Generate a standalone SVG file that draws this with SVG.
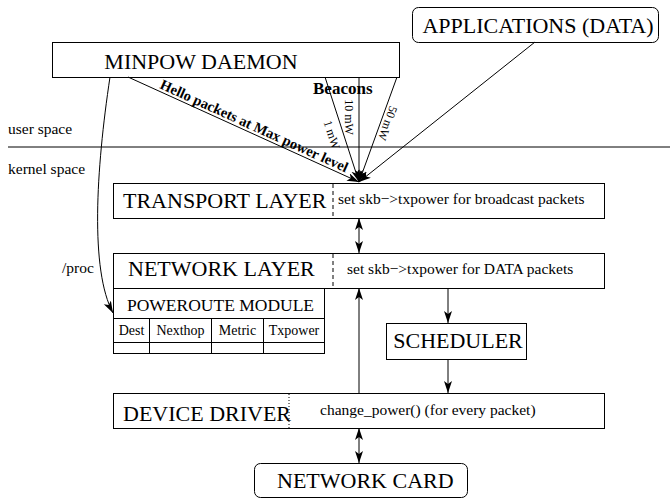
<svg xmlns="http://www.w3.org/2000/svg" width="670" height="500" viewBox="0 0 670 500">
<style>
text{font-family:"Liberation Serif","Times New Roman",serif;fill:#000}
.big{font-size:22px}
.mid{font-size:17.5px}
.sm{font-size:15.5px}
.xs{font-size:14px}
.tiny{font-size:12px}
.bold{font-weight:bold}
.box{fill:#fff;stroke:#000;stroke-width:1}
.ln{fill:none;stroke:#000;stroke-width:1}
.dash{stroke:#000;stroke-width:1;stroke-dasharray:4 3}
.dot{stroke:#000;stroke-width:1;stroke-dasharray:1 2}
</style>
<defs>
<marker id="ah" markerUnits="userSpaceOnUse" markerWidth="13" markerHeight="9" refX="12" refY="4" orient="auto-start-reverse">
<path d="M0,0 L12,4 L0,8 L3,4 z" fill="#000"/>
</marker>
</defs>

<line x1="8" y1="147" x2="670" y2="147" class="ln"/>
<text x="8" y="134" class="sm">user space</text>
<text x="8" y="174" class="sm">kernel space</text>

<g id="minpow">
<rect x="52.5" y="42.5" width="347" height="35" class="box"/>
<text x="201" y="69" class="big" text-anchor="middle">MINPOW DAEMON</text>
</g>

<g id="applications">
<rect x="412.5" y="7.5" width="246" height="35" rx="6" class="box"/>
<text x="538" y="33" class="big" text-anchor="middle">APPLICATIONS (DATA)</text>
</g>

<g id="transport">
<rect x="113.5" y="183.5" width="491" height="35" class="box"/>
<line x1="333" y1="184" x2="333" y2="218" class="dash"/>
<text x="123" y="208" class="big">TRANSPORT LAYER</text>
<text x="338" y="204" class="sm">set skb−&gt;txpower for broadcast packets</text>
</g>

<g id="network">
<rect x="113.5" y="253.5" width="491" height="35" class="box"/>
<line x1="333" y1="254" x2="333" y2="288" class="dash"/>
<text x="128" y="276" class="big">NETWORK LAYER</text>
<text x="347" y="274" class="sm">set skb−&gt;txpower for DATA packets</text>
</g>

<g id="poweroute">
<rect x="113.5" y="288.5" width="211" height="65" class="box"/>
<line x1="113.5" y1="318.5" x2="324.5" y2="318.5" class="ln"/>
<line x1="113.5" y1="342.5" x2="324.5" y2="342.5" class="ln"/>
<line x1="149.5" y1="318.5" x2="149.5" y2="353.5" class="ln"/>
<line x1="211.5" y1="318.5" x2="211.5" y2="353.5" class="ln"/>
<line x1="263.5" y1="318.5" x2="263.5" y2="353.5" class="ln"/>
<text x="220.5" y="311" class="mid" text-anchor="middle">POWEROUTE MODULE</text>
<text x="131.5" y="335" class="xs" text-anchor="middle">Dest</text>
<text x="180.5" y="335" class="xs" text-anchor="middle">Nexthop</text>
<text x="237.5" y="335" class="xs" text-anchor="middle">Metric</text>
<text x="294" y="335" class="xs" text-anchor="middle">Txpower</text>
</g>

<g id="scheduler">
<rect x="386.5" y="323.5" width="140" height="36" class="box"/>
<text x="458" y="348" class="big" text-anchor="middle">SCHEDULER</text>
</g>

<g id="devicedriver">
<rect x="113.5" y="393.5" width="491" height="35" class="box"/>
<line x1="289" y1="394" x2="289" y2="428" class="dot"/>
<text x="123" y="421" class="big">DEVICE DRIVER</text>
<text x="320" y="415" class="sm">change_power() (for every packet)</text>
</g>

<g id="networkcard">
<rect x="254.5" y="463.5" width="213" height="34" rx="6" class="box"/>
<text x="277" y="488" class="big">NETWORK CARD</text>
</g>

<g id="connectors">
<line x1="128" y1="77" x2="359" y2="182" class="ln" marker-end="url(#ah)"/>
<line x1="325" y1="77" x2="359" y2="182" class="ln" marker-end="url(#ah)"/>
<line x1="359" y1="77" x2="359" y2="182" class="ln" marker-end="url(#ah)"/>
<line x1="397" y1="77" x2="359" y2="182" class="ln" marker-end="url(#ah)"/>
<line x1="535" y1="42" x2="359" y2="182" class="ln" marker-end="url(#ah)"/>
<path d="M110,77 C96,170 90,270 113,313" class="ln" marker-end="url(#ah)"/>
<line x1="359" y1="218" x2="359" y2="253" class="ln" marker-start="url(#ah)" marker-end="url(#ah)"/>
<line x1="359" y1="393" x2="359" y2="288" class="ln" marker-end="url(#ah)"/>
<line x1="448" y1="288" x2="448" y2="323" class="ln" marker-end="url(#ah)"/>
<line x1="448" y1="359" x2="448" y2="393" class="ln" marker-end="url(#ah)"/>
<line x1="359" y1="428" x2="359" y2="463" class="ln" marker-start="url(#ah)" marker-end="url(#ah)"/>
<text x="159" y="88" class="bold" style="font-size:14.5px" transform="rotate(24.4 159 88)">Hello packets at Max power level</text>
<text x="313" y="94" class="bold" style="font-size:17px">Beacons</text>
<text x="328" y="136" class="tiny" text-anchor="middle" transform="rotate(72 328 136)">1 mW</text>
<text x="345" y="117" class="tiny" text-anchor="middle" transform="rotate(90 345 117)">10 mW</text>
<text x="384" y="122" class="tiny" text-anchor="middle" transform="rotate(110 384 122)">50 mW</text>
<text x="62" y="273" class="sm">/proc</text>
</g>
</svg>
